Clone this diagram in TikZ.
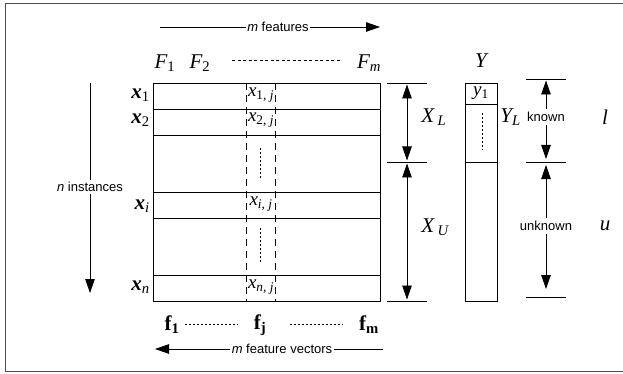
\documentclass[tikz,border=0pt]{standalone}
\usepackage{fontspec}
\setmainfont{Liberation Sans}
\newfontfamily\tms{Liberation Serif}
\usetikzlibrary{arrows.meta}
\newcommand{\sbs}[1]{\textsubscript{#1}}
\begin{document}
\begin{tikzpicture}[x=1pt,y=-1pt, line width=0.8pt,
 lbl/.style={font=\fontsize{13}{15}\selectfont, inner sep=1.5pt},
 mth/.style={font=\tms\itshape\fontsize{21}{23}\selectfont, inner sep=0pt},
 bmth/.style={font=\tms\bfseries\fontsize{21}{23}\selectfont, inner sep=0pt},
 cell/.style={font=\tms\itshape\fontsize{19}{21}\selectfont, inner sep=0pt},
 arr/.style={-{Triangle[length=14pt,width=9.5pt]}},
 darr/.style={{Triangle[length=14pt,width=9.5pt]}-{Triangle[length=14pt,width=9.5pt]}},
 dsh/.style={dash pattern=on 7pt off 5pt, line width=0.7pt},
 dts/.style={dash pattern=on 2pt off 2pt, line width=0.6pt}]
\useasboundingbox (0,0) rectangle (623,374);
\draw[line width=1pt, black!70] (623,4) -- (5,4) -- (5,371) -- (623,371);

% matrix
\draw (153,83) rectangle (380,301);
\foreach \yy in {109,135,192,218,275} \draw (153,\yy) -- (380,\yy);
\draw[dsh] (246,83) -- (246,301);
\draw[dsh] (275,83) -- (275,301);
\draw[dts] (260,148) -- (260,178);
\draw[dts] (260,228) -- (260,263);

% cell labels
\node[cell] (c1) at (261,95) {x\sbs{\upshape 1, \itshape j}};
\node[cell] (c2) at (261,120) {x\sbs{\upshape 2, \itshape j}};
\node[cell] (ci) at (261,204) {x\sbs{i, j}};
\node[cell] (cn) at (261,287) {x\sbs{n, j}};

% row labels
\node[mth, anchor=east] (r1) at (150,95) {\bfseries x\sbs{\mdseries\upshape 1}};
\node[mth, anchor=east] (r2) at (150,120) {\bfseries x\sbs{\mdseries\upshape 2}};
\node[mth, anchor=east] (ri) at (150,206) {\bfseries x\sbs{\mdseries i}};
\node[mth, anchor=east] (rn) at (150,287) {\bfseries x\sbs{\mdseries n}};

% n instances
\coordinate (nt) at (90,83);
\coordinate (nb) at (90,293);
\node[lbl] (ninst) at (90,187) {\itshape n\upshape\ instances};
\draw (nt) -- (ninst);
\draw[arr] (ninst) -- (nb);

% m features
\coordinate (mfl) at (160,27);
\coordinate (mfr) at (380,27);
\node[lbl, inner sep=1pt] (mf) at (278,27) {\itshape m\upshape\ features};
\draw (mfl) -- (mf);
\draw[arr] (mf) -- (mfr);

% F labels
\node[mth] (F1) at (165,63) {F\sbs{\upshape 1}};
\node[mth] (F2) at (200,63) {F\sbs{\upshape 2}};
\node[mth] (Fm) at (369,63) {F\sbs{m}};
\coordinate (fd1) at (232,60);
\coordinate (fd2) at (340,60);
\draw[dash pattern=on 3pt off 2.5pt, line width=0.6pt] (fd1) -- (fd2);

% f labels
\node[bmth] (f1) at (172,325) {f\sbs{1}};
\node[bmth] (fj) at (260,325) {f\sbs{j}};
\node[bmth] (fm) at (369,325) {f\sbs{m}};
\draw[dts] (185,324) -- (238,324);
\draw[dts] (290,324) -- (343,324);

% m feature vectors
\coordinate (mvl) at (155,349);
\coordinate (mvr) at (383,349);
\node[lbl, inner sep=1pt] (mv) at (282,349) {\itshape m\upshape\ feature vectors};
\draw[arr] (mv) -- (mvl);
\draw (mv) -- (mvr);

% X brackets
\foreach \yy/\nm in {83/xa,162/xb,301/xc} {
  \coordinate (\nm) at (407,\yy);
  \draw (387,\yy) -- (427,\yy);
}
\draw[darr, shorten >=1.5pt, shorten <=1.5pt] (xa) -- (xb);
\draw[darr, shorten >=1.5pt, shorten <=1.5pt] (xb) -- (xc);
\node[mth, anchor=west] (XL) at (421,117) {X\,\sbs{L}};
\node[mth, anchor=west] (XU) at (421,227) {X\,\sbs{U}};

% Y column
\draw (465,83) rectangle (497,301);
\draw (465,104) -- (497,104);
\draw (465,162) -- (497,162);
\node[cell] (y1) at (481,93) {y\sbs{\upshape 1}};
\draw[dts] (482,113) -- (482,150);
\node[mth] (Y) at (481,61) {Y};
\node[mth, anchor=west] (YL) at (500,117) {Y\sbs{L}};

% known / unknown
\foreach \yy/\nm in {79/ka,162/kb,297/kc} {
  \coordinate (\nm) at (546,\yy);
  \draw (526,\yy) -- (566,\yy);
}
\node[lbl, inner sep=3pt] (kn) at (546,117) {known};
\node[lbl, inner sep=3pt] (ukn) at (546,226) {unknown};
\draw[arr, shorten >=1.5pt] (kn) -- (ka);
\draw[arr, shorten >=3pt] (kn) -- (kb);
\draw[arr, shorten >=3pt] (ukn) -- (kb);
\draw[arr, shorten >=8pt] (ukn) -- (kc);

\node[mth] (l) at (605,117) {l};
\node[mth] (u) at (605,226) {u};
\end{tikzpicture}
\end{document}
